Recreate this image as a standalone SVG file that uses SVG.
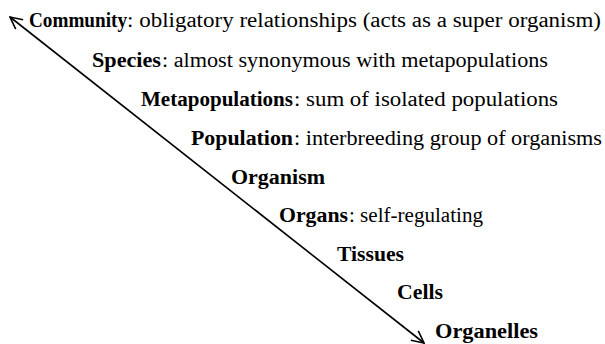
<svg xmlns="http://www.w3.org/2000/svg" width="605" height="344" viewBox="0 0 605 344">
<defs>
<marker id="arr" viewBox="0 0 14 14" refX="13" refY="7" markerWidth="14" markerHeight="14" markerUnits="userSpaceOnUse" orient="auto-start-reverse">
<path d="M1,1 L13,7 L1,13" fill="none" stroke="#000" stroke-width="1.6"/>
</marker>
<style>
text{font-family:"Liberation Serif","DejaVu Serif",serif;font-size:20px;fill:#000}
.b{font-weight:bold}
</style>
</defs>
<rect width="605" height="344" fill="#fff"/>
<g id="connectors">
<line x1="10" y1="17" x2="424" y2="343" stroke="#000" stroke-width="1.6" marker-start="url(#arr)" marker-end="url(#arr)"/>
</g>
<g id="community">
<text class="b" x="29" y="27" textLength="98" lengthAdjust="spacingAndGlyphs">Community</text>
<text x="127" y="27" textLength="474" lengthAdjust="spacingAndGlyphs">: obligatory relationships (acts as a super organism)</text>
</g>
<g id="species">
<text class="b" x="92" y="67" textLength="69" lengthAdjust="spacingAndGlyphs">Species</text>
<text x="162" y="67" textLength="386" lengthAdjust="spacingAndGlyphs">: almost synonymous with metapopulations</text>
</g>
<g id="metapopulations">
<text class="b" x="141" y="106" textLength="152" lengthAdjust="spacingAndGlyphs">Metapopulations</text>
<text x="294" y="106" textLength="264" lengthAdjust="spacingAndGlyphs">: sum of isolated populations</text>
</g>
<g id="population">
<text class="b" x="191" y="145" textLength="102" lengthAdjust="spacingAndGlyphs">Population</text>
<text x="294" y="145" textLength="308" lengthAdjust="spacingAndGlyphs">: interbreeding group of organisms</text>
</g>
<g id="organism">
<text class="b" x="231" y="184" textLength="94" lengthAdjust="spacingAndGlyphs">Organism</text>
</g>
<g id="organs">
<text class="b" x="279" y="222" textLength="69" lengthAdjust="spacingAndGlyphs">Organs</text>
<text x="349" y="222" textLength="134" lengthAdjust="spacingAndGlyphs">: self-regulating</text>
</g>
<g id="tissues">
<text class="b" x="337" y="261" textLength="67" lengthAdjust="spacingAndGlyphs">Tissues</text>
</g>
<g id="cells">
<text class="b" x="397" y="299" textLength="46" lengthAdjust="spacingAndGlyphs">Cells</text>
</g>
<g id="organelles">
<text class="b" x="435" y="338" textLength="103" lengthAdjust="spacingAndGlyphs">Organelles</text>
</g>
</svg>
